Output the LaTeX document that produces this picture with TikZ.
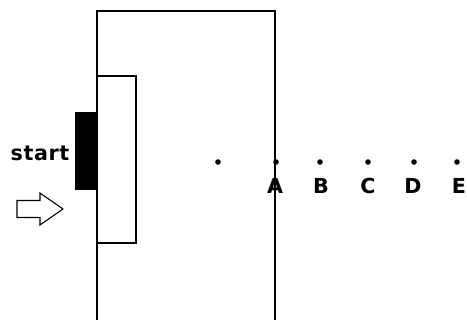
\documentclass[tikz,border=0pt]{standalone}
\usepackage{fontspec}
\setmainfont{DejaVu Sans}
\begin{document}
\begin{tikzpicture}[x=0.75pt,y=-0.75pt,
  frame/.style={draw=black,line width=1.5pt*0.75},
  pt/.style={circle,fill=black,inner sep=0pt,minimum size=4.2pt},
  lbl/.style={font=\bfseries\fontsize{15.5pt}{18pt}\selectfont,inner sep=0pt,anchor=center}]
\clip (0,0) rectangle (467,320);
\fill[white] (0,0) rectangle (467,320);
% big frame
\draw[frame] (97,320) -- (97,11) -- (275,11) -- (275,320);
% inner rectangle
\draw[frame] (97,76) rectangle (136,243);
\draw[line width=2.6pt*0.75] (97,76) -- (97,243);
% black block
\fill[black] (75,112) rectangle (97,190);
% start label
\node[lbl] (start) at (40,153) {\addfontfeature{LetterSpace=3}start};
% hollow arrow
\draw[line width=1.1pt*0.75] (17,200.5) -- (40,200.5) -- (40,193) -- (63,209) -- (40,225) -- (40,217.5) -- (17,217.5) -- cycle;
% dots
\node[pt] (p0) at (218,162) {};
\node[pt] (pA) at (276,162) {};
\node[pt] (pB) at (320,162) {};
\node[pt] (pC) at (368,162) {};
\node[pt] (pD) at (414,162) {};
\node[pt] (pE) at (457,162) {};
% labels
\node[lbl] (A) at (275,185.5) {A};
\node[lbl] (B) at (321,185.5) {B};
\node[lbl] (C) at (368,185.5) {C};
\node[lbl] (D) at (413,185.5) {D};
\node[lbl] (E) at (459,185.5) {E};
\draw[frame] (275,11) -- (275,320);
\end{tikzpicture}
\end{document}
